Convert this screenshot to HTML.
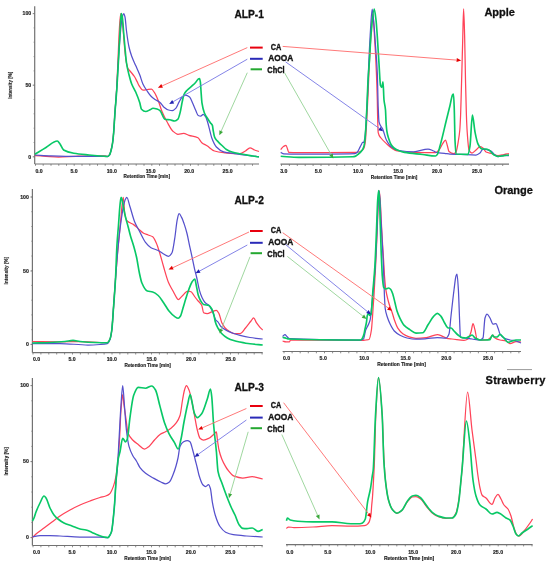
<!DOCTYPE html>
<html><head><meta charset="utf-8"><style>
html,body{margin:0;padding:0;background:#fff;}
body{width:550px;height:568px;overflow:hidden;}
svg{display:block;will-change:transform;}
text{font-family:"Liberation Sans",sans-serif;fill:#111;}
.tl{font-size:5.2px;font-weight:bold;fill:#1a1a1a;stroke:#1a1a1a;stroke-width:0.15px;}
.rt{font-size:5.2px;font-weight:bold;fill:#1a1a1a;stroke:#1a1a1a;stroke-width:0.15px;}
.it{font-size:5.2px;font-weight:bold;fill:#1a1a1a;stroke:#1a1a1a;stroke-width:0.12px;}
.lg{font-size:8.6px;font-weight:bold;stroke:#111;stroke-width:0.35px;}
.ti{font-size:11px;font-weight:bold;stroke:#111;stroke-width:0.3px;}
</style></head><body>
<svg width="550" height="568" viewBox="0 0 550 568">
<rect width="550" height="568" fill="#fff"/>
<line x1="34.7" y1="6.3" x2="34.7" y2="164.0" stroke="#727272" stroke-width="1.2"/>
<line x1="32.7" y1="13.6" x2="34.7" y2="13.6" stroke="#727272" stroke-width="0.8"/>
<text x="31.2" y="15.4" class="tl" text-anchor="end">100</text>
<line x1="32.7" y1="85.2" x2="34.7" y2="85.2" stroke="#727272" stroke-width="0.8"/>
<text x="31.2" y="87.0" class="tl" text-anchor="end">50</text>
<line x1="32.7" y1="156.8" x2="34.7" y2="156.8" stroke="#727272" stroke-width="0.8"/>
<text x="31.2" y="158.6" class="tl" text-anchor="end">0</text>
<line x1="33.5" y1="13.6" x2="34.7" y2="13.6" stroke="#727272" stroke-width="0.6"/>
<line x1="33.5" y1="27.9" x2="34.7" y2="27.9" stroke="#727272" stroke-width="0.6"/>
<line x1="33.5" y1="42.2" x2="34.7" y2="42.2" stroke="#727272" stroke-width="0.6"/>
<line x1="33.5" y1="56.6" x2="34.7" y2="56.6" stroke="#727272" stroke-width="0.6"/>
<line x1="33.5" y1="70.9" x2="34.7" y2="70.9" stroke="#727272" stroke-width="0.6"/>
<line x1="33.5" y1="85.2" x2="34.7" y2="85.2" stroke="#727272" stroke-width="0.6"/>
<line x1="33.5" y1="99.5" x2="34.7" y2="99.5" stroke="#727272" stroke-width="0.6"/>
<line x1="33.5" y1="113.8" x2="34.7" y2="113.8" stroke="#727272" stroke-width="0.6"/>
<line x1="33.5" y1="128.2" x2="34.7" y2="128.2" stroke="#727272" stroke-width="0.6"/>
<line x1="33.5" y1="142.5" x2="34.7" y2="142.5" stroke="#727272" stroke-width="0.6"/>
<line x1="33.5" y1="156.8" x2="34.7" y2="156.8" stroke="#727272" stroke-width="0.6"/>
<text transform="translate(12.0 98.8) rotate(-90)" class="it" textLength="27.1" lengthAdjust="spacingAndGlyphs">Intensity [%]</text>
<line x1="34.7" y1="164.0" x2="259.0" y2="164.0" stroke="#727272" stroke-width="1.2"/>
<line x1="35.5" y1="164.0" x2="35.5" y2="165.8" stroke="#727272" stroke-width="0.8"/>
<line x1="43.2" y1="164.0" x2="43.2" y2="165.8" stroke="#727272" stroke-width="0.8"/>
<line x1="51.0" y1="164.0" x2="51.0" y2="165.8" stroke="#727272" stroke-width="0.8"/>
<line x1="58.8" y1="164.0" x2="58.8" y2="165.8" stroke="#727272" stroke-width="0.8"/>
<line x1="66.5" y1="164.0" x2="66.5" y2="165.8" stroke="#727272" stroke-width="0.8"/>
<line x1="74.2" y1="164.0" x2="74.2" y2="165.8" stroke="#727272" stroke-width="0.8"/>
<line x1="82.0" y1="164.0" x2="82.0" y2="165.8" stroke="#727272" stroke-width="0.8"/>
<line x1="89.8" y1="164.0" x2="89.8" y2="165.8" stroke="#727272" stroke-width="0.8"/>
<line x1="97.5" y1="164.0" x2="97.5" y2="165.8" stroke="#727272" stroke-width="0.8"/>
<line x1="105.2" y1="164.0" x2="105.2" y2="165.8" stroke="#727272" stroke-width="0.8"/>
<line x1="113.0" y1="164.0" x2="113.0" y2="165.8" stroke="#727272" stroke-width="0.8"/>
<line x1="120.8" y1="164.0" x2="120.8" y2="165.8" stroke="#727272" stroke-width="0.8"/>
<line x1="128.5" y1="164.0" x2="128.5" y2="165.8" stroke="#727272" stroke-width="0.8"/>
<line x1="136.2" y1="164.0" x2="136.2" y2="165.8" stroke="#727272" stroke-width="0.8"/>
<line x1="144.0" y1="164.0" x2="144.0" y2="165.8" stroke="#727272" stroke-width="0.8"/>
<line x1="151.8" y1="164.0" x2="151.8" y2="165.8" stroke="#727272" stroke-width="0.8"/>
<line x1="159.5" y1="164.0" x2="159.5" y2="165.8" stroke="#727272" stroke-width="0.8"/>
<line x1="167.2" y1="164.0" x2="167.2" y2="165.8" stroke="#727272" stroke-width="0.8"/>
<line x1="175.0" y1="164.0" x2="175.0" y2="165.8" stroke="#727272" stroke-width="0.8"/>
<line x1="182.8" y1="164.0" x2="182.8" y2="165.8" stroke="#727272" stroke-width="0.8"/>
<line x1="190.5" y1="164.0" x2="190.5" y2="165.8" stroke="#727272" stroke-width="0.8"/>
<line x1="198.2" y1="164.0" x2="198.2" y2="165.8" stroke="#727272" stroke-width="0.8"/>
<line x1="206.0" y1="164.0" x2="206.0" y2="165.8" stroke="#727272" stroke-width="0.8"/>
<line x1="213.8" y1="164.0" x2="213.8" y2="165.8" stroke="#727272" stroke-width="0.8"/>
<line x1="221.5" y1="164.0" x2="221.5" y2="165.8" stroke="#727272" stroke-width="0.8"/>
<line x1="229.2" y1="164.0" x2="229.2" y2="165.8" stroke="#727272" stroke-width="0.8"/>
<line x1="237.0" y1="164.0" x2="237.0" y2="165.8" stroke="#727272" stroke-width="0.8"/>
<line x1="244.8" y1="164.0" x2="244.8" y2="165.8" stroke="#727272" stroke-width="0.8"/>
<line x1="252.5" y1="164.0" x2="252.5" y2="165.8" stroke="#727272" stroke-width="0.8"/>
<text x="39.0" y="172.5" class="tl" text-anchor="middle">0.0</text>
<text x="74.0" y="172.5" class="tl" text-anchor="middle">5.0</text>
<text x="111.8" y="172.5" class="tl" text-anchor="middle">10.0</text>
<text x="150.7" y="172.5" class="tl" text-anchor="middle">15.0</text>
<text x="189.2" y="172.5" class="tl" text-anchor="middle">20.0</text>
<text x="227.6" y="172.5" class="tl" text-anchor="middle">25.0</text>
<text x="123.6" y="178.4" class="rt" textLength="46.4" lengthAdjust="spacingAndGlyphs">Retention Time [min]</text>
<path d="M35.00 155.60 C38.67 155.83 42.33 156.08 46.00 156.30 C50.17 156.55 54.33 157.00 58.50 157.00 C64.33 157.00 70.17 156.45 76.00 156.30 C85.33 156.06 94.67 155.80 104.00 155.80 C105.17 155.80 106.33 156.30 107.50 156.30 C108.17 156.30 108.83 155.62 109.50 154.80 C110.07 154.10 110.63 151.70 111.20 149.50 C111.63 147.82 112.07 145.82 112.50 143.00 C112.83 140.83 113.17 137.66 113.50 134.00 C114.00 128.51 114.50 119.20 115.00 112.00 C115.53 104.32 116.07 98.45 116.60 89.40 C117.07 81.48 117.53 70.49 118.00 60.00 C118.33 52.51 118.67 42.40 119.00 36.00 C119.33 29.60 119.67 23.26 120.00 20.00 C120.30 17.07 120.60 13.60 120.90 13.60 C121.33 13.60 121.77 17.07 122.20 20.00 C122.63 22.93 123.07 29.02 123.50 34.00 C123.93 38.98 124.37 45.78 124.80 50.00 C125.30 54.87 125.80 59.39 126.30 62.00 C126.87 64.95 127.43 67.39 128.00 68.50 C128.50 69.48 129.00 69.88 129.50 70.50 C130.23 71.40 130.97 72.11 131.70 73.00 C132.60 74.09 133.50 75.12 134.40 76.50 C135.27 77.83 136.13 79.73 137.00 81.40 C137.90 83.13 138.80 85.45 139.70 86.70 C140.80 88.23 141.90 90.20 143.00 90.20 C144.50 90.20 146.00 89.65 147.50 89.50 C148.83 89.37 150.17 89.20 151.50 89.20 C152.50 89.20 153.50 91.21 154.50 92.70 C155.67 94.43 156.83 97.18 158.00 100.00 C159.27 103.06 160.53 107.91 161.80 111.00 C163.53 115.23 165.27 118.65 167.00 121.80 C168.90 125.26 170.80 129.30 172.70 131.00 C174.47 132.58 176.23 134.30 178.00 134.30 C179.87 134.30 181.73 133.40 183.60 133.40 C185.40 133.40 187.20 134.74 189.00 135.30 C192.00 136.24 195.00 136.30 198.00 137.80 C199.27 138.43 200.53 141.65 201.80 142.70 C203.53 144.14 205.27 144.69 207.00 145.80 C209.50 147.40 212.00 150.25 214.50 151.00 C217.53 151.91 220.57 152.35 223.60 152.70 C227.23 153.12 230.87 153.60 234.50 153.60 C236.33 153.60 238.17 153.60 240.00 153.60 C241.83 153.60 243.67 152.05 245.50 151.00 C247.00 150.14 248.50 147.80 250.00 147.80 C251.50 147.80 253.00 149.41 254.50 150.00 C256.00 150.59 257.50 151.00 259.00 151.50" fill="none" stroke="#ff4358" stroke-width="1.25" stroke-linejoin="round"/>
<path d="M35.00 155.00 C40.33 155.27 45.67 155.64 51.00 155.80 C59.33 156.05 67.67 156.30 76.00 156.30 C85.43 156.30 94.87 156.30 104.30 156.30 C105.37 156.30 106.43 156.50 107.50 156.50 C108.17 156.50 108.83 155.81 109.50 155.00 C110.07 154.31 110.63 152.12 111.20 150.00 C111.63 148.38 112.07 146.32 112.50 143.50 C112.83 141.33 113.17 138.19 113.50 134.50 C114.00 128.97 114.50 119.06 115.00 112.00 C115.57 104.00 116.13 97.89 116.70 89.40 C117.23 81.41 117.77 70.42 118.30 62.00 C118.80 54.11 119.30 46.18 119.80 40.00 C120.30 33.82 120.80 27.88 121.30 24.00 C121.73 20.64 122.17 17.30 122.60 16.00 C123.00 14.80 123.40 13.60 123.80 13.60 C124.20 13.60 124.60 15.29 125.00 17.00 C125.50 19.13 126.00 27.14 126.50 31.00 C127.33 37.43 128.17 43.25 129.00 47.00 C129.90 51.05 130.80 53.77 131.70 56.30 C133.03 60.05 134.37 62.52 135.70 65.60 C137.03 68.68 138.37 71.40 139.70 74.80 C140.77 77.52 141.83 81.63 142.90 83.90 C144.30 86.88 145.70 88.83 147.10 90.90 C148.50 92.97 149.90 95.13 151.30 96.50 C152.53 97.71 153.77 98.54 155.00 99.40 C156.67 100.56 158.33 101.12 160.00 102.50 C161.23 103.52 162.47 105.87 163.70 106.90 C165.33 108.27 166.97 109.59 168.60 110.00 C169.83 110.31 171.07 110.60 172.30 110.60 C173.53 110.60 174.77 109.36 176.00 108.10 C177.03 107.04 178.07 103.72 179.10 101.90 C180.13 100.08 181.17 97.88 182.20 97.00 C183.30 96.07 184.40 95.10 185.50 95.10 C186.87 95.10 188.23 95.94 189.60 97.00 C190.63 97.80 191.67 100.95 192.70 103.20 C193.73 105.45 194.77 108.33 195.80 110.60 C196.60 112.35 197.40 115.15 198.20 115.50 C199.03 115.86 199.87 116.10 200.70 116.10 C201.53 116.10 202.37 114.30 203.20 114.30 C204.00 114.30 204.80 115.52 205.60 116.70 C206.23 117.63 206.87 119.73 207.50 121.70 C208.00 123.25 208.50 125.41 209.00 127.30 C209.93 130.82 210.87 135.52 211.80 138.00 C213.33 142.07 214.87 145.42 216.40 147.00 C218.80 149.48 221.20 151.14 223.60 151.80 C227.23 152.80 230.87 153.06 234.50 153.60 C240.57 154.50 246.63 155.28 252.70 156.00 C254.80 156.25 256.90 156.47 259.00 156.70" fill="none" stroke="#5550cc" stroke-width="1.25" stroke-linejoin="round"/>
<path d="M35.00 154.30 C38.67 152.03 42.33 149.69 46.00 147.50 C49.77 145.25 53.53 141.00 57.30 141.00 C58.20 141.00 59.10 142.81 60.00 144.00 C61.20 145.58 62.40 149.27 63.60 150.00 C67.00 152.06 70.40 152.72 73.80 153.30 C78.87 154.17 83.93 154.51 89.00 155.00 C94.10 155.49 99.20 155.94 104.30 156.30 C105.37 156.37 106.43 156.50 107.50 156.50 C108.17 156.50 108.83 155.81 109.50 155.00 C110.07 154.31 110.63 152.12 111.20 150.00 C111.63 148.38 112.07 146.32 112.50 143.50 C112.83 141.33 113.17 138.19 113.50 134.50 C114.00 128.97 114.50 118.85 115.00 112.00 C115.60 103.78 116.20 98.14 116.80 89.40 C117.37 81.14 117.93 70.13 118.50 60.00 C118.93 52.25 119.37 43.84 119.80 36.00 C120.10 30.57 120.40 23.93 120.70 20.00 C120.90 17.38 121.10 13.60 121.30 13.60 C121.63 13.60 121.97 15.29 122.30 17.00 C122.73 19.22 123.17 27.02 123.60 32.00 C124.07 37.36 124.53 43.02 125.00 48.00 C125.50 53.34 126.00 59.69 126.50 63.00 C127.33 68.51 128.17 71.50 129.00 74.80 C129.90 78.37 130.80 81.69 131.70 84.00 C133.03 87.42 134.37 88.96 135.70 92.00 C137.03 95.04 138.37 98.41 139.70 102.60 C140.30 104.48 140.90 108.57 141.50 109.20 C142.90 110.68 144.30 111.50 145.70 111.50 C147.13 111.50 148.57 110.46 150.00 109.80 C151.00 109.34 152.00 108.20 153.00 108.20 C154.33 108.20 155.67 108.60 157.00 109.00 C158.00 109.30 159.00 109.82 160.00 110.60 C161.67 111.90 163.33 118.82 165.00 119.20 C166.63 119.57 168.27 119.53 169.90 119.80 C171.53 120.07 173.17 121.00 174.80 121.00 C175.83 121.00 176.87 120.24 177.90 119.20 C178.70 118.39 179.50 114.93 180.30 111.80 C180.93 109.32 181.57 104.81 182.20 101.90 C182.80 99.15 183.40 95.80 184.00 94.50 C185.03 92.26 186.07 91.33 187.10 90.20 C188.73 88.41 190.37 87.41 192.00 85.90 C193.27 84.73 194.53 83.62 195.80 82.20 C196.60 81.30 197.40 79.62 198.20 79.10 C198.63 78.82 199.07 78.50 199.50 78.50 C199.80 78.50 200.10 80.21 200.40 82.20 C200.60 83.53 200.80 88.12 201.00 90.80 C201.33 95.26 201.67 101.00 202.00 103.20 C202.80 108.48 203.60 111.01 204.40 113.00 C205.60 115.99 206.80 117.30 208.00 119.20 C208.83 120.52 209.67 121.74 210.50 122.90 C211.13 123.78 211.77 123.88 212.40 125.40 C212.67 126.04 212.93 129.01 213.20 130.50 C213.60 132.74 214.00 135.26 214.40 136.40 C214.93 137.91 215.47 138.76 216.00 139.50 C216.73 140.51 217.47 141.06 218.20 141.80 C219.47 143.08 220.73 144.31 222.00 145.50 C223.47 146.88 224.93 148.61 226.40 149.50 C228.27 150.63 230.13 151.43 232.00 152.00 C234.67 152.81 237.33 153.27 240.00 153.80 C244.23 154.64 248.47 155.30 252.70 156.00 C254.80 156.35 256.90 156.67 259.00 157.00" fill="none" stroke="#08c866" stroke-width="1.65" stroke-linejoin="round"/>
<line x1="280.5" y1="164.2" x2="509.0" y2="164.2" stroke="#727272" stroke-width="1.2"/>
<line x1="281.5" y1="164.2" x2="281.5" y2="166.0" stroke="#727272" stroke-width="0.8"/>
<line x1="289.4" y1="164.2" x2="289.4" y2="166.0" stroke="#727272" stroke-width="0.8"/>
<line x1="297.3" y1="164.2" x2="297.3" y2="166.0" stroke="#727272" stroke-width="0.8"/>
<line x1="305.2" y1="164.2" x2="305.2" y2="166.0" stroke="#727272" stroke-width="0.8"/>
<line x1="313.1" y1="164.2" x2="313.1" y2="166.0" stroke="#727272" stroke-width="0.8"/>
<line x1="321.0" y1="164.2" x2="321.0" y2="166.0" stroke="#727272" stroke-width="0.8"/>
<line x1="328.9" y1="164.2" x2="328.9" y2="166.0" stroke="#727272" stroke-width="0.8"/>
<line x1="336.8" y1="164.2" x2="336.8" y2="166.0" stroke="#727272" stroke-width="0.8"/>
<line x1="344.7" y1="164.2" x2="344.7" y2="166.0" stroke="#727272" stroke-width="0.8"/>
<line x1="352.6" y1="164.2" x2="352.6" y2="166.0" stroke="#727272" stroke-width="0.8"/>
<line x1="360.5" y1="164.2" x2="360.5" y2="166.0" stroke="#727272" stroke-width="0.8"/>
<line x1="368.4" y1="164.2" x2="368.4" y2="166.0" stroke="#727272" stroke-width="0.8"/>
<line x1="376.3" y1="164.2" x2="376.3" y2="166.0" stroke="#727272" stroke-width="0.8"/>
<line x1="384.2" y1="164.2" x2="384.2" y2="166.0" stroke="#727272" stroke-width="0.8"/>
<line x1="392.1" y1="164.2" x2="392.1" y2="166.0" stroke="#727272" stroke-width="0.8"/>
<line x1="400.0" y1="164.2" x2="400.0" y2="166.0" stroke="#727272" stroke-width="0.8"/>
<line x1="407.9" y1="164.2" x2="407.9" y2="166.0" stroke="#727272" stroke-width="0.8"/>
<line x1="415.8" y1="164.2" x2="415.8" y2="166.0" stroke="#727272" stroke-width="0.8"/>
<line x1="423.7" y1="164.2" x2="423.7" y2="166.0" stroke="#727272" stroke-width="0.8"/>
<line x1="431.6" y1="164.2" x2="431.6" y2="166.0" stroke="#727272" stroke-width="0.8"/>
<line x1="439.5" y1="164.2" x2="439.5" y2="166.0" stroke="#727272" stroke-width="0.8"/>
<line x1="447.4" y1="164.2" x2="447.4" y2="166.0" stroke="#727272" stroke-width="0.8"/>
<line x1="455.3" y1="164.2" x2="455.3" y2="166.0" stroke="#727272" stroke-width="0.8"/>
<line x1="463.2" y1="164.2" x2="463.2" y2="166.0" stroke="#727272" stroke-width="0.8"/>
<line x1="471.1" y1="164.2" x2="471.1" y2="166.0" stroke="#727272" stroke-width="0.8"/>
<line x1="479.0" y1="164.2" x2="479.0" y2="166.0" stroke="#727272" stroke-width="0.8"/>
<line x1="486.9" y1="164.2" x2="486.9" y2="166.0" stroke="#727272" stroke-width="0.8"/>
<line x1="494.8" y1="164.2" x2="494.8" y2="166.0" stroke="#727272" stroke-width="0.8"/>
<line x1="502.7" y1="164.2" x2="502.7" y2="166.0" stroke="#727272" stroke-width="0.8"/>
<text x="283.8" y="172.6" class="tl" text-anchor="middle">3.0</text>
<text x="318.3" y="172.6" class="tl" text-anchor="middle">5.0</text>
<text x="358.0" y="172.6" class="tl" text-anchor="middle">10.0</text>
<text x="398.2" y="172.6" class="tl" text-anchor="middle">15.0</text>
<text x="437.0" y="172.6" class="tl" text-anchor="middle">20.0</text>
<text x="477.0" y="172.6" class="tl" text-anchor="middle">25.0</text>
<text x="370.8" y="179.4" class="rt" textLength="46.6" lengthAdjust="spacingAndGlyphs">Retention Time [min]</text>
<path d="M280.70 149.60 C281.63 148.57 282.57 147.08 283.50 146.50 C284.33 145.98 285.17 145.40 286.00 145.40 C286.50 145.40 287.00 147.70 287.50 149.00 C287.90 150.04 288.30 152.37 288.70 152.40 C292.13 152.67 295.57 152.70 299.00 152.70 C317.77 152.70 336.53 152.66 355.30 152.40 C356.53 152.38 357.77 152.22 359.00 152.00 C360.00 151.82 361.00 151.24 362.00 150.50 C362.67 150.01 363.33 149.37 364.00 148.00 C364.43 147.11 364.87 145.06 365.30 142.00 C365.60 139.88 365.90 134.69 366.20 130.00 C366.47 125.83 366.73 120.16 367.00 115.00 C367.33 108.56 367.67 102.14 368.00 95.00 C368.50 84.29 369.00 69.72 369.50 60.00 C370.00 50.28 370.50 42.19 371.00 35.00 C371.57 26.85 372.13 13.60 372.70 13.60 C373.30 13.60 373.90 27.28 374.50 36.40 C375.13 46.03 375.77 57.44 376.40 72.70 C376.70 79.93 377.00 87.71 377.30 100.00 C377.40 104.10 377.50 112.63 377.60 116.40 C377.80 123.94 378.00 131.83 378.20 132.70 C379.13 136.77 380.07 136.71 381.00 138.00 C382.80 140.49 384.60 141.92 386.40 143.60 C388.20 145.28 390.00 147.05 391.80 148.20 C393.63 149.37 395.47 150.69 397.30 151.00 C402.73 151.90 408.17 152.27 413.60 152.40 C420.90 152.58 428.20 152.70 435.50 152.70 C436.67 152.70 437.83 151.24 439.00 150.00 C440.23 148.69 441.47 145.41 442.70 143.60 C443.63 142.23 444.57 140.00 445.50 140.00 C446.10 140.00 446.70 143.53 447.30 145.50 C447.87 147.36 448.43 151.01 449.00 151.50 C450.67 152.94 452.33 153.60 454.00 153.60 C454.67 153.60 455.33 152.89 456.00 152.00 C456.83 150.89 457.67 145.05 458.50 140.00 C458.93 137.37 459.37 134.89 459.80 130.00 C460.07 126.99 460.33 121.49 460.60 115.00 C460.80 110.14 461.00 101.89 461.20 95.00 C461.43 86.96 461.67 78.53 461.90 70.00 C462.17 60.25 462.43 49.58 462.70 40.00 C463.00 29.22 463.30 9.00 463.60 9.00 C463.93 9.00 464.27 23.53 464.60 35.00 C464.90 45.32 465.20 66.88 465.50 80.00 C465.80 93.12 466.10 106.80 466.40 115.00 C466.67 122.29 466.93 128.20 467.20 132.00 C467.80 140.55 468.40 148.83 469.00 150.00 C470.00 151.95 471.00 153.00 472.00 153.00 C473.33 153.00 474.67 151.06 476.00 150.00 C477.33 148.94 478.67 146.60 480.00 146.60 C481.00 146.60 482.00 147.31 483.00 148.00 C484.00 148.69 485.00 151.52 486.00 152.00 C488.00 152.96 490.00 153.01 492.00 153.60 C494.00 154.19 496.00 155.60 498.00 155.60 C500.00 155.60 502.00 154.96 504.00 154.60 C505.67 154.30 507.33 153.93 509.00 153.60" fill="none" stroke="#ff4358" stroke-width="1.25" stroke-linejoin="round"/>
<path d="M280.70 152.40 C281.73 152.87 282.77 153.74 283.80 153.80 C288.87 154.11 293.93 154.20 299.00 154.20 C317.67 154.20 336.33 154.16 355.00 153.60 C355.90 153.57 356.80 152.73 357.70 151.80 C358.30 151.18 358.90 149.38 359.50 148.20 C360.13 146.95 360.77 145.66 361.40 144.50 C361.80 143.77 362.20 142.40 362.60 142.40 C362.97 142.40 363.33 142.40 363.70 142.40 C364.07 142.40 364.43 140.14 364.80 138.00 C365.07 136.44 365.33 133.32 365.60 130.00 C365.90 126.27 366.20 120.45 366.50 115.00 C366.83 108.95 367.17 102.38 367.50 95.00 C367.90 86.14 368.30 73.93 368.70 65.00 C369.20 53.84 369.70 42.94 370.20 35.00 C370.87 24.41 371.53 9.10 372.20 9.10 C372.80 9.10 373.40 18.52 374.00 25.00 C374.50 30.40 375.00 38.33 375.50 45.50 C376.10 54.10 376.70 59.06 377.30 72.70 C377.60 79.52 377.90 99.58 378.20 107.00 C378.47 113.60 378.73 120.66 379.00 121.80 C380.23 127.06 381.47 126.10 382.70 129.00 C383.93 131.90 385.17 137.65 386.40 140.00 C388.20 143.43 390.00 146.07 391.80 147.30 C394.20 148.95 396.60 150.11 399.00 150.50 C403.87 151.28 408.73 151.80 413.60 151.80 C418.40 151.80 423.20 149.00 428.00 149.00 C429.87 149.00 431.73 150.24 433.60 151.00 C434.83 151.50 436.07 152.51 437.30 152.70 C439.70 153.07 442.10 153.03 444.50 153.30 C446.33 153.51 448.17 154.13 450.00 154.20 C453.33 154.33 456.67 154.32 460.00 154.40 C465.33 154.54 470.67 155.00 476.00 155.00 C477.33 155.00 478.67 153.99 480.00 153.00 C481.00 152.26 482.00 149.00 483.00 149.00 C484.67 149.00 486.33 149.57 488.00 150.00 C489.00 150.26 490.00 150.51 491.00 151.00 C492.33 151.65 493.67 154.09 495.00 155.00 C496.00 155.69 497.00 156.60 498.00 156.60 C500.00 156.60 502.00 155.40 504.00 155.40 C505.67 155.40 507.33 155.53 509.00 155.60" fill="none" stroke="#5550cc" stroke-width="1.25" stroke-linejoin="round"/>
<path d="M280.70 156.30 C286.80 156.63 292.90 157.30 299.00 157.30 C317.00 157.30 335.00 157.24 353.00 156.80 C353.67 156.78 354.33 156.60 355.00 156.40 C356.17 156.06 357.33 154.97 358.50 154.00 C359.77 152.95 361.03 151.94 362.30 150.00 C362.87 149.13 363.43 148.09 364.00 146.00 C364.33 144.77 364.67 142.11 365.00 139.00 C365.33 135.89 365.67 130.49 366.00 125.00 C366.33 119.51 366.67 112.27 367.00 105.00 C367.33 97.73 367.67 87.00 368.00 81.00 C368.50 72.00 369.00 67.61 369.50 60.00 C370.00 52.39 370.50 40.69 371.00 35.00 C372.07 22.87 373.13 9.10 374.20 9.10 C374.80 9.10 375.40 15.00 376.00 20.00 C376.43 23.61 376.87 30.32 377.30 36.40 C377.87 44.35 378.43 54.96 379.00 63.60 C379.50 71.23 380.00 84.26 380.50 85.50 C380.93 86.57 381.37 87.30 381.80 87.30 C382.20 87.30 382.60 81.80 383.00 81.80 C383.33 81.80 383.67 96.64 384.00 100.00 C384.50 105.04 385.00 104.48 385.50 110.00 C385.70 112.21 385.90 120.12 386.10 123.00 C386.37 126.84 386.63 129.74 386.90 131.40 C387.43 134.72 387.97 136.27 388.50 138.00 C389.33 140.70 390.17 143.14 391.00 144.50 C392.00 146.13 393.00 147.20 394.00 148.00 C395.10 148.88 396.20 149.51 397.30 150.00 C399.70 151.07 402.10 151.96 404.50 152.40 C410.57 153.52 416.63 153.79 422.70 154.50 C426.97 155.00 431.23 156.00 435.50 156.00 C436.10 156.00 436.70 155.26 437.30 154.50 C438.20 153.36 439.10 149.14 440.00 146.00 C442.13 138.56 444.27 128.63 446.40 120.00 C447.60 115.15 448.80 110.44 450.00 105.50 C450.83 102.07 451.67 96.24 452.50 95.00 C452.83 94.51 453.17 94.00 453.50 94.00 C453.77 94.00 454.03 102.67 454.30 110.00 C454.53 116.42 454.77 134.92 455.00 140.00 C455.33 147.25 455.67 153.97 456.00 154.00 C460.00 154.37 464.00 154.40 468.00 154.40 C468.67 154.40 469.33 150.16 470.00 146.00 C470.80 141.01 471.60 115.00 472.40 115.00 C473.27 115.00 474.13 127.67 475.00 132.00 C476.00 136.99 477.00 142.05 478.00 144.00 C479.33 146.60 480.67 149.00 482.00 149.00 C483.33 149.00 484.67 149.00 486.00 149.00 C487.00 149.00 488.00 149.52 489.00 150.00 C490.67 150.80 492.33 154.15 494.00 155.00 C495.33 155.68 496.67 156.40 498.00 156.40 C500.00 156.40 502.00 155.85 504.00 155.60 C505.67 155.39 507.33 155.20 509.00 155.00" fill="none" stroke="#08c866" stroke-width="1.65" stroke-linejoin="round"/>
<line x1="32.4" y1="189.0" x2="32.4" y2="352.7" stroke="#727272" stroke-width="1.2"/>
<line x1="30.4" y1="197.0" x2="32.4" y2="197.0" stroke="#727272" stroke-width="0.8"/>
<text x="28.9" y="198.8" class="tl" text-anchor="end">100</text>
<line x1="30.4" y1="271.0" x2="32.4" y2="271.0" stroke="#727272" stroke-width="0.8"/>
<text x="28.9" y="272.8" class="tl" text-anchor="end">50</text>
<line x1="30.4" y1="344.4" x2="32.4" y2="344.4" stroke="#727272" stroke-width="0.8"/>
<text x="28.9" y="346.2" class="tl" text-anchor="end">0</text>
<line x1="31.2" y1="197.0" x2="32.4" y2="197.0" stroke="#727272" stroke-width="0.6"/>
<line x1="31.2" y1="211.7" x2="32.4" y2="211.7" stroke="#727272" stroke-width="0.6"/>
<line x1="31.2" y1="226.5" x2="32.4" y2="226.5" stroke="#727272" stroke-width="0.6"/>
<line x1="31.2" y1="241.2" x2="32.4" y2="241.2" stroke="#727272" stroke-width="0.6"/>
<line x1="31.2" y1="256.0" x2="32.4" y2="256.0" stroke="#727272" stroke-width="0.6"/>
<line x1="31.2" y1="270.7" x2="32.4" y2="270.7" stroke="#727272" stroke-width="0.6"/>
<line x1="31.2" y1="285.4" x2="32.4" y2="285.4" stroke="#727272" stroke-width="0.6"/>
<line x1="31.2" y1="300.2" x2="32.4" y2="300.2" stroke="#727272" stroke-width="0.6"/>
<line x1="31.2" y1="314.9" x2="32.4" y2="314.9" stroke="#727272" stroke-width="0.6"/>
<line x1="31.2" y1="329.7" x2="32.4" y2="329.7" stroke="#727272" stroke-width="0.6"/>
<line x1="31.2" y1="344.4" x2="32.4" y2="344.4" stroke="#727272" stroke-width="0.6"/>
<text transform="translate(8.4 284.4) rotate(-90)" class="it" textLength="27.5" lengthAdjust="spacingAndGlyphs">Intensity [%]</text>
<line x1="32.4" y1="352.7" x2="262.7" y2="352.7" stroke="#727272" stroke-width="1.2"/>
<line x1="33.0" y1="352.7" x2="33.0" y2="354.5" stroke="#727272" stroke-width="0.8"/>
<line x1="40.9" y1="352.7" x2="40.9" y2="354.5" stroke="#727272" stroke-width="0.8"/>
<line x1="48.8" y1="352.7" x2="48.8" y2="354.5" stroke="#727272" stroke-width="0.8"/>
<line x1="56.7" y1="352.7" x2="56.7" y2="354.5" stroke="#727272" stroke-width="0.8"/>
<line x1="64.6" y1="352.7" x2="64.6" y2="354.5" stroke="#727272" stroke-width="0.8"/>
<line x1="72.5" y1="352.7" x2="72.5" y2="354.5" stroke="#727272" stroke-width="0.8"/>
<line x1="80.4" y1="352.7" x2="80.4" y2="354.5" stroke="#727272" stroke-width="0.8"/>
<line x1="88.3" y1="352.7" x2="88.3" y2="354.5" stroke="#727272" stroke-width="0.8"/>
<line x1="96.2" y1="352.7" x2="96.2" y2="354.5" stroke="#727272" stroke-width="0.8"/>
<line x1="104.1" y1="352.7" x2="104.1" y2="354.5" stroke="#727272" stroke-width="0.8"/>
<line x1="112.0" y1="352.7" x2="112.0" y2="354.5" stroke="#727272" stroke-width="0.8"/>
<line x1="119.9" y1="352.7" x2="119.9" y2="354.5" stroke="#727272" stroke-width="0.8"/>
<line x1="127.8" y1="352.7" x2="127.8" y2="354.5" stroke="#727272" stroke-width="0.8"/>
<line x1="135.7" y1="352.7" x2="135.7" y2="354.5" stroke="#727272" stroke-width="0.8"/>
<line x1="143.6" y1="352.7" x2="143.6" y2="354.5" stroke="#727272" stroke-width="0.8"/>
<line x1="151.5" y1="352.7" x2="151.5" y2="354.5" stroke="#727272" stroke-width="0.8"/>
<line x1="159.4" y1="352.7" x2="159.4" y2="354.5" stroke="#727272" stroke-width="0.8"/>
<line x1="167.3" y1="352.7" x2="167.3" y2="354.5" stroke="#727272" stroke-width="0.8"/>
<line x1="175.2" y1="352.7" x2="175.2" y2="354.5" stroke="#727272" stroke-width="0.8"/>
<line x1="183.1" y1="352.7" x2="183.1" y2="354.5" stroke="#727272" stroke-width="0.8"/>
<line x1="191.0" y1="352.7" x2="191.0" y2="354.5" stroke="#727272" stroke-width="0.8"/>
<line x1="198.9" y1="352.7" x2="198.9" y2="354.5" stroke="#727272" stroke-width="0.8"/>
<line x1="206.8" y1="352.7" x2="206.8" y2="354.5" stroke="#727272" stroke-width="0.8"/>
<line x1="214.7" y1="352.7" x2="214.7" y2="354.5" stroke="#727272" stroke-width="0.8"/>
<line x1="222.6" y1="352.7" x2="222.6" y2="354.5" stroke="#727272" stroke-width="0.8"/>
<line x1="230.5" y1="352.7" x2="230.5" y2="354.5" stroke="#727272" stroke-width="0.8"/>
<line x1="238.4" y1="352.7" x2="238.4" y2="354.5" stroke="#727272" stroke-width="0.8"/>
<line x1="246.3" y1="352.7" x2="246.3" y2="354.5" stroke="#727272" stroke-width="0.8"/>
<line x1="254.2" y1="352.7" x2="254.2" y2="354.5" stroke="#727272" stroke-width="0.8"/>
<line x1="262.1" y1="352.7" x2="262.1" y2="354.5" stroke="#727272" stroke-width="0.8"/>
<text x="36.6" y="360.6" class="tl" text-anchor="middle">0.0</text>
<text x="72.0" y="360.6" class="tl" text-anchor="middle">5.0</text>
<text x="111.8" y="360.6" class="tl" text-anchor="middle">10.0</text>
<text x="151.5" y="360.6" class="tl" text-anchor="middle">15.0</text>
<text x="191.0" y="360.6" class="tl" text-anchor="middle">20.0</text>
<text x="230.5" y="360.6" class="tl" text-anchor="middle">25.0</text>
<text x="124.5" y="366.9" class="rt" textLength="46.4" lengthAdjust="spacingAndGlyphs">Retention Time [min]</text>
<path d="M32.40 341.60 C41.60 341.67 50.80 341.80 60.00 341.80 C66.67 341.80 73.33 341.60 80.00 341.60 C86.67 341.60 93.33 342.28 100.00 342.50 C102.43 342.58 104.87 342.70 107.30 342.70 C108.20 342.70 109.10 341.01 110.00 339.00 C110.60 337.66 111.20 334.34 111.80 330.00 C112.40 325.66 113.00 314.64 113.60 306.40 C114.23 297.70 114.87 287.58 115.50 279.00 C116.10 270.87 116.70 262.93 117.30 256.00 C117.93 248.68 118.57 242.68 119.20 236.00 C119.80 229.68 120.40 223.40 121.00 217.00 C121.43 212.38 121.87 206.15 122.30 203.00 C122.63 200.58 122.97 197.40 123.30 197.40 C123.80 197.40 124.30 211.29 124.80 214.00 C125.37 217.07 125.93 219.14 126.50 220.00 C127.33 221.26 128.17 221.74 129.00 222.30 C130.53 223.32 132.07 223.63 133.60 224.60 C135.13 225.57 136.67 227.28 138.20 228.60 C140.00 230.15 141.80 232.24 143.60 233.20 C145.13 234.01 146.67 234.39 148.20 235.00 C149.70 235.59 151.20 235.81 152.70 236.80 C153.93 237.62 155.17 240.49 156.40 243.20 C157.60 245.84 158.80 250.09 160.00 254.00 C161.20 257.91 162.40 262.74 163.60 266.80 C165.23 272.32 166.87 278.62 168.50 282.50 C169.90 285.82 171.30 287.88 172.70 290.50 C173.93 292.81 175.17 295.48 176.40 297.30 C177.00 298.19 177.60 299.60 178.20 299.60 C179.40 299.60 180.60 297.53 181.80 296.40 C183.33 294.96 184.87 292.69 186.40 291.80 C187.00 291.45 187.60 291.00 188.20 291.00 C189.13 291.00 190.07 291.36 191.00 291.80 C191.57 292.07 192.13 292.91 192.70 293.60 C193.47 294.54 194.23 295.96 195.00 297.00 C196.07 298.45 197.13 299.67 198.20 301.00 C199.40 302.50 200.60 303.07 201.80 305.50 C202.40 306.71 203.00 312.39 203.60 312.70 C204.83 313.33 206.07 313.60 207.30 313.60 C208.80 313.60 210.30 312.32 211.80 311.80 C213.33 311.27 214.87 310.40 216.40 310.40 C217.27 310.40 218.13 312.06 219.00 313.60 C219.93 315.26 220.87 320.86 221.80 322.70 C223.63 326.32 225.47 328.64 227.30 330.00 C229.70 331.78 232.10 333.60 234.50 333.60 C236.33 333.60 238.17 333.60 240.00 333.60 C241.83 333.60 243.67 330.07 245.50 328.00 C247.33 325.93 249.17 323.29 251.00 321.00 C251.87 319.92 252.73 317.80 253.60 317.80 C254.53 317.80 255.47 321.31 256.40 322.70 C257.60 324.48 258.80 325.96 260.00 327.30 C260.90 328.30 261.80 329.10 262.70 330.00" fill="none" stroke="#ff4358" stroke-width="1.25" stroke-linejoin="round"/>
<path d="M32.40 343.60 C41.60 343.57 50.80 343.50 60.00 343.50 C69.33 343.50 78.67 345.00 88.00 345.00 C92.00 345.00 96.00 344.76 100.00 344.50 C102.43 344.34 104.87 344.24 107.30 343.60 C108.20 343.36 109.10 341.70 110.00 339.50 C110.60 338.03 111.20 334.52 111.80 330.00 C112.40 325.48 113.00 314.64 113.60 306.40 C114.23 297.70 114.87 287.58 115.50 279.00 C116.10 270.87 116.70 262.93 117.30 256.00 C117.93 248.68 118.57 241.71 119.20 236.00 C119.97 229.08 120.73 223.19 121.50 218.00 C122.17 213.49 122.83 208.99 123.50 206.00 C124.10 203.31 124.70 200.69 125.30 199.50 C125.80 198.50 126.30 197.40 126.80 197.40 C127.87 197.40 128.93 203.52 130.00 206.80 C131.50 211.41 133.00 217.68 134.50 221.40 C136.33 225.95 138.17 228.82 140.00 232.30 C141.83 235.78 143.67 239.96 145.50 242.30 C147.33 244.64 149.17 246.66 151.00 247.70 C153.40 249.06 155.80 249.32 158.20 250.50 C160.00 251.39 161.80 253.02 163.60 254.00 C165.23 254.89 166.87 256.30 168.50 256.30 C169.67 256.30 170.83 254.82 172.00 252.80 C172.90 251.24 173.80 244.22 174.70 238.70 C175.57 233.38 176.43 223.16 177.30 219.40 C177.90 216.80 178.50 213.70 179.10 213.70 C179.97 213.70 180.83 215.96 181.70 217.60 C182.60 219.31 183.50 221.94 184.40 224.60 C185.27 227.16 186.13 230.06 187.00 233.50 C187.87 236.94 188.73 241.78 189.60 245.80 C190.50 249.98 191.40 253.92 192.30 258.10 C193.17 262.12 194.03 266.69 194.90 270.40 C195.50 272.97 196.10 274.93 196.70 277.50 C197.57 281.21 198.43 286.71 199.30 289.80 C200.20 293.01 201.10 295.60 202.00 297.50 C203.00 299.61 204.00 301.45 205.00 302.50 C206.33 303.90 207.67 304.09 209.00 305.50 C210.23 306.80 211.47 309.27 212.70 312.00 C213.30 313.33 213.90 315.47 214.50 317.00 C214.93 318.11 215.37 319.57 215.80 320.10 C216.43 320.88 217.07 320.96 217.70 321.60 C218.77 322.68 219.83 325.44 220.90 326.50 C223.03 328.61 225.17 329.81 227.30 330.90 C229.43 331.99 231.57 332.76 233.70 333.50 C235.80 334.23 237.90 334.87 240.00 335.40 C243.33 336.24 246.67 336.99 250.00 337.50 C254.23 338.15 258.47 338.50 262.70 339.00" fill="none" stroke="#5550cc" stroke-width="1.25" stroke-linejoin="round"/>
<path d="M32.40 343.00 C38.27 342.83 44.13 342.74 50.00 342.50 C55.00 342.30 60.00 341.97 65.00 341.50 C67.67 341.25 70.33 340.40 73.00 340.40 C75.33 340.40 77.67 341.27 80.00 341.50 C85.00 341.99 90.00 342.37 95.00 342.50 C99.10 342.61 103.20 342.70 107.30 342.70 C108.20 342.70 109.10 341.01 110.00 339.00 C110.60 337.66 111.20 334.34 111.80 330.00 C112.40 325.66 113.00 314.64 113.60 306.40 C114.23 297.70 114.87 290.47 115.50 279.00 C115.97 270.55 116.43 253.92 116.90 246.00 C117.43 236.95 117.97 232.06 118.50 225.00 C119.00 218.39 119.50 209.48 120.00 205.00 C120.37 201.72 120.73 197.40 121.10 197.40 C121.47 197.40 121.83 198.75 122.20 200.00 C122.53 201.14 122.87 204.20 123.20 206.00 C123.97 210.14 124.73 213.79 125.50 217.00 C126.40 220.77 127.30 223.57 128.20 227.00 C128.97 229.92 129.73 233.29 130.50 236.00 C131.60 239.88 132.70 242.64 133.80 246.50 C134.70 249.66 135.60 252.90 136.50 257.00 C137.47 261.40 138.43 268.51 139.40 273.00 C140.20 276.71 141.00 280.83 141.80 282.70 C143.63 286.98 145.47 290.40 147.30 291.00 C149.10 291.59 150.90 291.48 152.70 292.00 C154.53 292.53 156.37 293.92 158.20 295.50 C160.00 297.05 161.80 300.13 163.60 302.70 C165.40 305.27 167.20 308.84 169.00 311.00 C170.83 313.20 172.67 315.23 174.50 316.40 C175.73 317.19 176.97 318.20 178.20 318.20 C178.97 318.20 179.73 317.12 180.50 316.00 C181.33 314.78 182.17 310.72 183.00 308.00 C184.00 304.74 185.00 301.16 186.00 298.00 C187.00 294.84 188.00 291.62 189.00 289.00 C190.00 286.38 191.00 283.46 192.00 282.00 C192.93 280.64 193.87 279.00 194.80 279.00 C195.33 279.00 195.87 283.51 196.40 286.00 C197.00 288.80 197.60 293.03 198.20 295.00 C198.97 297.52 199.73 299.20 200.50 300.50 C201.53 302.26 202.57 304.14 203.60 304.50 C205.40 305.13 207.20 304.87 209.00 305.50 C209.93 305.83 210.87 307.35 211.80 309.00 C212.50 310.24 213.20 312.42 213.90 315.00 C214.33 316.60 214.77 319.90 215.20 321.40 C216.03 324.28 216.87 326.11 217.70 327.70 C219.00 330.18 220.30 332.15 221.60 333.50 C223.50 335.47 225.40 336.88 227.30 337.90 C229.43 339.04 231.57 339.86 233.70 340.50 C235.80 341.13 237.90 341.56 240.00 342.00 C243.33 342.69 246.67 343.38 250.00 343.80 C254.23 344.33 258.47 344.60 262.70 345.00" fill="none" stroke="#08c866" stroke-width="1.65" stroke-linejoin="round"/>
<line x1="282.6" y1="351.5" x2="521.0" y2="351.5" stroke="#727272" stroke-width="1.2"/>
<line x1="284.0" y1="351.5" x2="284.0" y2="353.3" stroke="#727272" stroke-width="0.8"/>
<line x1="292.1" y1="351.5" x2="292.1" y2="353.3" stroke="#727272" stroke-width="0.8"/>
<line x1="300.2" y1="351.5" x2="300.2" y2="353.3" stroke="#727272" stroke-width="0.8"/>
<line x1="308.3" y1="351.5" x2="308.3" y2="353.3" stroke="#727272" stroke-width="0.8"/>
<line x1="316.4" y1="351.5" x2="316.4" y2="353.3" stroke="#727272" stroke-width="0.8"/>
<line x1="324.5" y1="351.5" x2="324.5" y2="353.3" stroke="#727272" stroke-width="0.8"/>
<line x1="332.6" y1="351.5" x2="332.6" y2="353.3" stroke="#727272" stroke-width="0.8"/>
<line x1="340.7" y1="351.5" x2="340.7" y2="353.3" stroke="#727272" stroke-width="0.8"/>
<line x1="348.8" y1="351.5" x2="348.8" y2="353.3" stroke="#727272" stroke-width="0.8"/>
<line x1="356.9" y1="351.5" x2="356.9" y2="353.3" stroke="#727272" stroke-width="0.8"/>
<line x1="365.0" y1="351.5" x2="365.0" y2="353.3" stroke="#727272" stroke-width="0.8"/>
<line x1="373.1" y1="351.5" x2="373.1" y2="353.3" stroke="#727272" stroke-width="0.8"/>
<line x1="381.2" y1="351.5" x2="381.2" y2="353.3" stroke="#727272" stroke-width="0.8"/>
<line x1="389.3" y1="351.5" x2="389.3" y2="353.3" stroke="#727272" stroke-width="0.8"/>
<line x1="397.4" y1="351.5" x2="397.4" y2="353.3" stroke="#727272" stroke-width="0.8"/>
<line x1="405.5" y1="351.5" x2="405.5" y2="353.3" stroke="#727272" stroke-width="0.8"/>
<line x1="413.6" y1="351.5" x2="413.6" y2="353.3" stroke="#727272" stroke-width="0.8"/>
<line x1="421.7" y1="351.5" x2="421.7" y2="353.3" stroke="#727272" stroke-width="0.8"/>
<line x1="429.8" y1="351.5" x2="429.8" y2="353.3" stroke="#727272" stroke-width="0.8"/>
<line x1="437.9" y1="351.5" x2="437.9" y2="353.3" stroke="#727272" stroke-width="0.8"/>
<line x1="446.0" y1="351.5" x2="446.0" y2="353.3" stroke="#727272" stroke-width="0.8"/>
<line x1="454.1" y1="351.5" x2="454.1" y2="353.3" stroke="#727272" stroke-width="0.8"/>
<line x1="462.2" y1="351.5" x2="462.2" y2="353.3" stroke="#727272" stroke-width="0.8"/>
<line x1="470.3" y1="351.5" x2="470.3" y2="353.3" stroke="#727272" stroke-width="0.8"/>
<line x1="478.4" y1="351.5" x2="478.4" y2="353.3" stroke="#727272" stroke-width="0.8"/>
<line x1="486.5" y1="351.5" x2="486.5" y2="353.3" stroke="#727272" stroke-width="0.8"/>
<line x1="494.6" y1="351.5" x2="494.6" y2="353.3" stroke="#727272" stroke-width="0.8"/>
<line x1="502.7" y1="351.5" x2="502.7" y2="353.3" stroke="#727272" stroke-width="0.8"/>
<line x1="510.8" y1="351.5" x2="510.8" y2="353.3" stroke="#727272" stroke-width="0.8"/>
<line x1="518.9" y1="351.5" x2="518.9" y2="353.3" stroke="#727272" stroke-width="0.8"/>
<text x="286.5" y="360.0" class="tl" text-anchor="middle">0.0</text>
<text x="323.2" y="360.0" class="tl" text-anchor="middle">5.0</text>
<text x="364.2" y="360.0" class="tl" text-anchor="middle">10.0</text>
<text x="405.5" y="360.0" class="tl" text-anchor="middle">15.0</text>
<text x="446.4" y="360.0" class="tl" text-anchor="middle">20.0</text>
<text x="488.0" y="360.0" class="tl" text-anchor="middle">25.0</text>
<text x="377.2" y="366.4" class="rt" textLength="48.7" lengthAdjust="spacingAndGlyphs">Retention Time [min]</text>
<path d="M282.60 341.00 C283.73 341.27 284.87 341.80 286.00 341.80 C287.17 341.80 288.33 341.80 289.50 341.80 C289.83 341.80 290.17 340.00 290.50 340.00 C291.33 340.00 292.17 340.00 293.00 340.00 C316.10 340.00 339.20 340.50 362.30 340.50 C363.53 340.50 364.77 340.18 366.00 340.00 C367.00 339.85 368.00 339.83 369.00 339.50 C369.80 339.24 370.60 335.06 371.40 330.00 C371.80 327.47 372.20 320.96 372.60 315.50 C372.87 311.86 373.13 307.05 373.40 303.20 C373.60 300.31 373.80 298.05 374.00 295.00 C374.53 286.86 375.07 276.57 375.60 266.00 C376.00 258.07 376.40 249.31 376.80 240.00 C377.13 232.25 377.47 222.88 377.80 215.00 C378.07 208.70 378.33 200.71 378.60 197.00 C378.80 194.22 379.00 190.80 379.20 190.80 C379.53 190.80 379.87 195.80 380.20 200.00 C380.53 204.20 380.87 213.69 381.20 220.00 C381.67 228.83 382.13 237.29 382.60 245.00 C382.97 251.06 383.33 255.96 383.70 262.00 C383.97 266.39 384.23 272.49 384.50 276.00 C384.97 282.14 385.43 287.14 385.90 290.20 C386.60 294.79 387.30 297.28 388.00 300.00 C388.70 302.72 389.40 304.91 390.10 307.00 C390.80 309.09 391.50 310.61 392.20 312.70 C392.90 314.79 393.60 317.71 394.30 319.70 C395.47 323.02 396.63 326.37 397.80 328.20 C399.47 330.81 401.13 332.64 402.80 333.80 C404.67 335.10 406.53 336.01 408.40 336.60 C410.93 337.40 413.47 338.30 416.00 338.30 C419.47 338.30 422.93 337.98 426.40 337.60 C430.03 337.21 433.67 334.50 437.30 334.50 C439.10 334.50 440.90 335.71 442.70 336.40 C444.53 337.10 446.37 338.47 448.20 338.70 C449.47 338.86 450.73 338.88 452.00 339.00 C456.00 339.36 460.00 340.40 464.00 340.40 C465.33 340.40 466.67 339.84 468.00 339.00 C469.00 338.37 470.00 335.06 471.00 332.00 C471.67 329.96 472.33 323.60 473.00 323.60 C473.67 323.60 474.33 327.51 475.00 330.00 C475.67 332.49 476.33 338.71 477.00 339.00 C478.67 339.73 480.33 340.00 482.00 340.00 C484.00 340.00 486.00 339.87 488.00 339.60 C489.00 339.46 490.00 337.93 491.00 337.00 C491.67 336.38 492.33 335.00 493.00 335.00 C493.67 335.00 494.33 337.54 495.00 338.00 C496.67 339.15 498.33 339.60 500.00 340.00 C502.00 340.48 504.00 340.45 506.00 341.00 C507.33 341.37 508.67 343.60 510.00 343.60 C512.00 343.60 514.00 341.60 516.00 341.60 C517.67 341.60 519.33 341.87 521.00 342.00" fill="none" stroke="#ff4358" stroke-width="1.25" stroke-linejoin="round"/>
<path d="M282.60 336.40 C283.40 335.77 284.20 334.50 285.00 334.50 C285.60 334.50 286.20 335.83 286.80 336.40 C287.70 337.25 288.60 338.65 289.50 338.70 C313.17 339.91 336.83 340.00 360.50 340.00 C361.50 340.00 362.50 339.64 363.50 339.00 C364.23 338.53 364.97 331.95 365.70 330.00 C366.50 327.87 367.30 327.13 368.10 325.30 C368.80 323.70 369.50 322.56 370.20 319.60 C370.40 318.76 370.60 317.15 370.80 315.50 C371.07 313.30 371.33 309.75 371.60 307.00 C372.00 302.87 372.40 299.26 372.80 295.00 C373.63 286.13 374.47 278.68 375.30 266.00 C375.80 258.39 376.30 246.35 376.80 235.00 C377.20 225.92 377.60 212.18 378.00 205.00 C378.33 199.01 378.67 190.80 379.00 190.80 C379.33 190.80 379.67 195.80 380.00 200.00 C380.33 204.20 380.67 213.69 381.00 220.00 C381.47 228.83 381.93 236.17 382.40 245.00 C382.73 251.31 383.07 256.82 383.40 265.00 C383.57 269.09 383.73 275.00 383.90 280.00 C384.07 285.00 384.23 291.32 384.40 295.00 C384.67 300.89 384.93 306.58 385.20 308.50 C385.90 313.53 386.60 314.81 387.30 317.00 C388.23 319.92 389.17 322.11 390.10 324.00 C391.50 326.84 392.90 329.54 394.30 331.00 C396.20 332.98 398.10 334.20 400.00 335.20 C402.33 336.42 404.67 337.52 407.00 338.00 C410.00 338.61 413.00 339.20 416.00 339.20 C419.47 339.20 422.93 338.93 426.40 338.70 C430.03 338.46 433.67 337.60 437.30 337.60 C440.20 337.60 443.10 338.00 446.00 338.00 C447.00 338.00 448.00 336.44 449.00 334.00 C449.67 332.37 450.33 321.89 451.00 316.00 C452.00 307.16 453.00 297.69 454.00 290.00 C454.67 284.87 455.33 277.95 456.00 276.00 C456.33 275.02 456.67 274.00 457.00 274.00 C457.47 274.00 457.93 282.61 458.40 290.00 C458.80 296.34 459.20 310.86 459.60 320.00 C459.87 326.09 460.13 336.82 460.40 337.00 C461.60 337.83 462.80 337.78 464.00 338.00 C466.67 338.48 469.33 338.67 472.00 339.00 C474.67 339.33 477.33 340.00 480.00 340.00 C481.00 340.00 482.00 339.33 483.00 338.00 C483.67 337.12 484.33 320.22 485.00 318.00 C485.67 315.78 486.33 314.00 487.00 314.00 C488.00 314.00 489.00 316.40 490.00 318.00 C491.00 319.60 492.00 324.00 493.00 324.00 C494.00 324.00 495.00 323.60 496.00 323.60 C496.67 323.60 497.33 326.31 498.00 328.00 C498.67 329.69 499.33 332.94 500.00 334.00 C501.33 336.12 502.67 337.31 504.00 338.00 C506.00 339.03 508.00 339.56 510.00 340.00 C512.00 340.44 514.00 340.52 516.00 341.00 C517.67 341.40 519.33 342.33 521.00 343.00" fill="none" stroke="#5550cc" stroke-width="1.25" stroke-linejoin="round"/>
<path d="M282.60 337.30 C283.73 337.60 284.87 337.88 286.00 338.20 C286.87 338.45 287.73 338.97 288.60 339.00 C312.57 339.89 336.53 340.00 360.50 340.00 C361.17 340.00 361.83 338.99 362.50 338.00 C363.00 337.26 363.50 335.79 364.00 334.00 C364.27 333.04 364.53 331.30 364.80 330.00 C365.37 327.24 365.93 325.49 366.50 322.00 C366.77 320.36 367.03 316.30 367.30 315.50 C367.70 314.30 368.10 313.40 368.50 313.40 C368.93 313.40 369.37 315.50 369.80 315.50 C370.20 315.50 370.60 315.06 371.00 314.30 C371.27 313.79 371.53 310.27 371.80 307.30 C372.07 304.33 372.33 298.75 372.60 295.00 C373.37 284.21 374.13 278.60 374.90 266.00 C375.43 257.23 375.97 242.66 376.50 230.00 C376.90 220.50 377.30 205.39 377.70 200.00 C378.03 195.51 378.37 190.60 378.70 190.60 C378.97 190.60 379.23 195.45 379.50 200.00 C379.77 204.55 380.03 216.83 380.30 225.00 C380.63 235.21 380.97 246.68 381.30 255.00 C381.47 259.16 381.63 262.51 381.80 266.00 C381.97 269.49 382.13 273.93 382.30 276.00 C382.77 281.79 383.23 286.81 383.70 287.40 C384.43 288.32 385.17 288.80 385.90 288.80 C386.83 288.80 387.77 288.00 388.70 288.00 C389.40 288.00 390.10 288.73 390.80 289.50 C391.50 290.27 392.20 292.34 392.90 294.40 C393.60 296.46 394.30 299.98 395.00 302.80 C395.70 305.62 396.40 309.15 397.10 311.30 C398.07 314.26 399.03 316.36 400.00 318.30 C401.40 321.11 402.80 323.92 404.20 325.40 C406.07 327.38 407.93 328.39 409.80 329.60 C411.87 330.93 413.93 333.10 416.00 333.10 C418.23 333.10 420.47 332.96 422.70 332.70 C424.53 332.48 426.37 327.24 428.20 324.50 C430.00 321.81 431.80 318.30 433.60 316.40 C434.83 315.10 436.07 313.30 437.30 313.30 C438.53 313.30 439.77 314.98 441.00 316.40 C442.17 317.74 443.33 320.84 444.50 322.70 C445.73 324.67 446.97 328.00 448.20 328.00 C449.13 328.00 450.07 328.00 451.00 328.00 C452.00 328.00 453.00 330.00 454.00 331.00 C455.33 332.33 456.67 333.95 458.00 335.00 C459.33 336.05 460.67 337.37 462.00 337.60 C463.33 337.83 464.67 338.00 466.00 338.00 C467.33 338.00 468.67 336.67 470.00 336.00 C470.67 335.67 471.33 335.00 472.00 335.00 C473.00 335.00 474.00 337.41 475.00 338.00 C476.67 338.99 478.33 340.00 480.00 340.00 C482.00 340.00 484.00 340.00 486.00 340.00 C487.33 340.00 488.67 339.87 490.00 339.60 C490.80 339.44 491.60 335.00 492.40 335.00 C492.93 335.00 493.47 337.00 494.00 337.00 C495.00 337.00 496.00 337.00 497.00 337.00 C498.00 337.00 499.00 334.40 500.00 334.40 C501.33 334.40 502.67 336.68 504.00 338.00 C505.33 339.32 506.67 342.40 508.00 342.40 C509.33 342.40 510.67 341.39 512.00 341.00 C513.33 340.61 514.67 340.00 516.00 340.00 C517.67 340.00 519.33 340.00 521.00 340.00" fill="none" stroke="#08c866" stroke-width="1.65" stroke-linejoin="round"/>
<line x1="32.4" y1="378.0" x2="32.4" y2="545.5" stroke="#727272" stroke-width="1.2"/>
<line x1="30.4" y1="385.6" x2="32.4" y2="385.6" stroke="#727272" stroke-width="0.8"/>
<text x="28.9" y="387.4" class="tl" text-anchor="end">100</text>
<line x1="30.4" y1="461.6" x2="32.4" y2="461.6" stroke="#727272" stroke-width="0.8"/>
<text x="28.9" y="463.4" class="tl" text-anchor="end">50</text>
<line x1="30.4" y1="537.6" x2="32.4" y2="537.6" stroke="#727272" stroke-width="0.8"/>
<text x="28.9" y="539.4" class="tl" text-anchor="end">0</text>
<line x1="31.2" y1="385.6" x2="32.4" y2="385.6" stroke="#727272" stroke-width="0.6"/>
<line x1="31.2" y1="400.8" x2="32.4" y2="400.8" stroke="#727272" stroke-width="0.6"/>
<line x1="31.2" y1="416.0" x2="32.4" y2="416.0" stroke="#727272" stroke-width="0.6"/>
<line x1="31.2" y1="431.2" x2="32.4" y2="431.2" stroke="#727272" stroke-width="0.6"/>
<line x1="31.2" y1="446.4" x2="32.4" y2="446.4" stroke="#727272" stroke-width="0.6"/>
<line x1="31.2" y1="461.6" x2="32.4" y2="461.6" stroke="#727272" stroke-width="0.6"/>
<line x1="31.2" y1="476.8" x2="32.4" y2="476.8" stroke="#727272" stroke-width="0.6"/>
<line x1="31.2" y1="492.0" x2="32.4" y2="492.0" stroke="#727272" stroke-width="0.6"/>
<line x1="31.2" y1="507.2" x2="32.4" y2="507.2" stroke="#727272" stroke-width="0.6"/>
<line x1="31.2" y1="522.4" x2="32.4" y2="522.4" stroke="#727272" stroke-width="0.6"/>
<line x1="31.2" y1="537.6" x2="32.4" y2="537.6" stroke="#727272" stroke-width="0.6"/>
<text transform="translate(7.9 475.6) rotate(-90)" class="it" textLength="28.5" lengthAdjust="spacingAndGlyphs">Intensity [%]</text>
<line x1="32.4" y1="545.5" x2="262.7" y2="545.5" stroke="#727272" stroke-width="1.2"/>
<line x1="33.0" y1="545.5" x2="33.0" y2="547.3" stroke="#727272" stroke-width="0.8"/>
<line x1="40.9" y1="545.5" x2="40.9" y2="547.3" stroke="#727272" stroke-width="0.8"/>
<line x1="48.8" y1="545.5" x2="48.8" y2="547.3" stroke="#727272" stroke-width="0.8"/>
<line x1="56.7" y1="545.5" x2="56.7" y2="547.3" stroke="#727272" stroke-width="0.8"/>
<line x1="64.6" y1="545.5" x2="64.6" y2="547.3" stroke="#727272" stroke-width="0.8"/>
<line x1="72.5" y1="545.5" x2="72.5" y2="547.3" stroke="#727272" stroke-width="0.8"/>
<line x1="80.4" y1="545.5" x2="80.4" y2="547.3" stroke="#727272" stroke-width="0.8"/>
<line x1="88.3" y1="545.5" x2="88.3" y2="547.3" stroke="#727272" stroke-width="0.8"/>
<line x1="96.2" y1="545.5" x2="96.2" y2="547.3" stroke="#727272" stroke-width="0.8"/>
<line x1="104.1" y1="545.5" x2="104.1" y2="547.3" stroke="#727272" stroke-width="0.8"/>
<line x1="112.0" y1="545.5" x2="112.0" y2="547.3" stroke="#727272" stroke-width="0.8"/>
<line x1="119.9" y1="545.5" x2="119.9" y2="547.3" stroke="#727272" stroke-width="0.8"/>
<line x1="127.8" y1="545.5" x2="127.8" y2="547.3" stroke="#727272" stroke-width="0.8"/>
<line x1="135.7" y1="545.5" x2="135.7" y2="547.3" stroke="#727272" stroke-width="0.8"/>
<line x1="143.6" y1="545.5" x2="143.6" y2="547.3" stroke="#727272" stroke-width="0.8"/>
<line x1="151.5" y1="545.5" x2="151.5" y2="547.3" stroke="#727272" stroke-width="0.8"/>
<line x1="159.4" y1="545.5" x2="159.4" y2="547.3" stroke="#727272" stroke-width="0.8"/>
<line x1="167.3" y1="545.5" x2="167.3" y2="547.3" stroke="#727272" stroke-width="0.8"/>
<line x1="175.2" y1="545.5" x2="175.2" y2="547.3" stroke="#727272" stroke-width="0.8"/>
<line x1="183.1" y1="545.5" x2="183.1" y2="547.3" stroke="#727272" stroke-width="0.8"/>
<line x1="191.0" y1="545.5" x2="191.0" y2="547.3" stroke="#727272" stroke-width="0.8"/>
<line x1="198.9" y1="545.5" x2="198.9" y2="547.3" stroke="#727272" stroke-width="0.8"/>
<line x1="206.8" y1="545.5" x2="206.8" y2="547.3" stroke="#727272" stroke-width="0.8"/>
<line x1="214.7" y1="545.5" x2="214.7" y2="547.3" stroke="#727272" stroke-width="0.8"/>
<line x1="222.6" y1="545.5" x2="222.6" y2="547.3" stroke="#727272" stroke-width="0.8"/>
<line x1="230.5" y1="545.5" x2="230.5" y2="547.3" stroke="#727272" stroke-width="0.8"/>
<line x1="238.4" y1="545.5" x2="238.4" y2="547.3" stroke="#727272" stroke-width="0.8"/>
<line x1="246.3" y1="545.5" x2="246.3" y2="547.3" stroke="#727272" stroke-width="0.8"/>
<line x1="254.2" y1="545.5" x2="254.2" y2="547.3" stroke="#727272" stroke-width="0.8"/>
<line x1="262.1" y1="545.5" x2="262.1" y2="547.3" stroke="#727272" stroke-width="0.8"/>
<text x="36.6" y="554.4" class="tl" text-anchor="middle">0.0</text>
<text x="72.0" y="554.4" class="tl" text-anchor="middle">5.0</text>
<text x="111.8" y="554.4" class="tl" text-anchor="middle">10.0</text>
<text x="151.3" y="554.4" class="tl" text-anchor="middle">15.0</text>
<text x="190.9" y="554.4" class="tl" text-anchor="middle">20.0</text>
<text x="230.4" y="554.4" class="tl" text-anchor="middle">25.0</text>
<text x="124.3" y="560.4" class="rt" textLength="46.6" lengthAdjust="spacingAndGlyphs">Retention Time [min]</text>
<path d="M32.40 537.60 C33.60 536.40 34.80 535.05 36.00 534.00 C38.67 531.67 41.33 530.00 44.00 528.00 C46.67 526.00 49.33 524.00 52.00 522.00 C54.67 520.00 57.33 517.79 60.00 516.00 C63.33 513.77 66.67 511.82 70.00 510.00 C73.33 508.18 76.67 506.48 80.00 505.00 C83.33 503.52 86.67 502.24 90.00 501.00 C93.33 499.76 96.67 498.49 100.00 497.50 C101.90 496.94 103.80 496.68 105.70 496.00 C106.97 495.55 108.23 495.05 109.50 494.00 C110.77 492.95 112.03 489.97 113.30 486.60 C114.27 484.03 115.23 480.37 116.20 475.00 C116.80 471.67 117.40 466.20 118.00 460.00 C118.50 454.84 119.00 448.00 119.50 440.00 C120.00 432.00 120.50 416.31 121.00 410.00 C121.57 402.85 122.13 394.50 122.70 394.50 C123.13 394.50 123.57 401.74 124.00 405.00 C124.50 408.76 125.00 412.07 125.50 415.50 C126.40 421.68 127.30 431.37 128.20 433.60 C129.70 437.32 131.20 438.43 132.70 440.00 C134.53 441.92 136.37 443.10 138.20 444.50 C140.30 446.10 142.40 449.00 144.50 449.00 C146.00 449.00 147.50 447.55 149.00 446.40 C150.83 445.00 152.67 441.97 154.50 440.00 C156.33 438.03 158.17 435.71 160.00 434.50 C161.83 433.29 163.67 432.83 165.50 431.80 C167.33 430.77 169.17 429.66 171.00 428.20 C172.80 426.76 174.60 425.18 176.40 422.70 C177.60 421.04 178.80 419.21 180.00 415.50 C180.90 412.72 181.80 403.92 182.70 399.00 C183.30 395.72 183.90 391.93 184.50 390.00 C185.13 387.96 185.77 385.50 186.40 385.50 C187.27 385.50 188.13 387.93 189.00 390.00 C189.93 392.23 190.87 396.76 191.80 401.00 C192.70 405.09 193.60 410.75 194.50 415.50 C195.43 420.42 196.37 426.43 197.30 430.00 C198.20 433.44 199.10 437.40 200.00 438.20 C201.20 439.27 202.40 440.00 203.60 440.00 C205.40 440.00 207.20 439.06 209.00 438.20 C210.83 437.33 212.67 435.25 214.50 433.60 C215.13 433.03 215.77 431.80 216.40 431.80 C216.70 431.80 217.00 436.83 217.30 439.00 C217.87 443.10 218.43 447.50 219.00 450.00 C219.93 454.12 220.87 456.67 221.80 459.00 C223.03 462.07 224.27 464.27 225.50 466.40 C226.17 467.55 226.83 468.66 227.50 469.50 C229.73 472.32 231.97 475.40 234.20 476.20 C237.03 477.22 239.87 478.00 242.70 478.00 C245.87 478.00 249.03 476.70 252.20 476.70 C255.70 476.70 259.20 478.23 262.70 479.00" fill="none" stroke="#ff4358" stroke-width="1.25" stroke-linejoin="round"/>
<path d="M32.40 537.00 C34.93 536.53 37.47 535.60 40.00 535.60 C43.33 535.60 46.67 535.60 50.00 535.60 C53.33 535.60 56.67 535.85 60.00 536.00 C66.67 536.29 73.33 537.00 80.00 537.00 C86.67 537.00 93.33 537.00 100.00 537.00 C102.53 537.00 105.07 537.60 107.60 537.60 C108.87 537.60 110.13 535.28 111.40 532.00 C112.37 529.50 113.33 518.16 114.30 507.50 C114.93 500.52 115.57 485.54 116.20 479.00 C116.57 475.22 116.93 473.99 117.30 470.00 C117.87 463.83 118.43 449.96 119.00 440.00 C119.67 428.28 120.33 414.19 121.00 405.00 C121.57 397.19 122.13 385.50 122.70 385.50 C123.30 385.50 123.90 399.20 124.50 406.40 C125.13 414.00 125.77 424.61 126.40 430.00 C127.27 437.38 128.13 443.25 129.00 446.40 C130.23 450.88 131.47 453.21 132.70 455.50 C133.93 457.79 135.17 458.97 136.40 461.00 C137.60 462.97 138.80 466.00 140.00 467.60 C141.87 470.10 143.73 471.85 145.60 473.30 C148.13 475.27 150.67 476.56 153.20 478.00 C155.73 479.44 158.27 480.90 160.80 482.00 C162.40 482.69 164.00 483.80 165.60 483.80 C166.87 483.80 168.13 482.97 169.40 482.00 C170.67 481.03 171.93 477.38 173.20 474.30 C174.13 472.03 175.07 469.20 176.00 466.00 C176.67 463.71 177.33 461.16 178.00 458.00 C178.67 454.84 179.33 447.89 180.00 446.40 C181.20 443.72 182.40 442.46 183.60 441.80 C184.83 441.12 186.07 440.50 187.30 440.50 C188.20 440.50 189.10 441.05 190.00 441.80 C190.90 442.55 191.80 446.92 192.70 450.00 C193.63 453.19 194.57 457.35 195.50 461.00 C196.10 463.34 196.70 465.57 197.30 468.00 C197.87 470.30 198.43 473.36 199.00 475.20 C200.27 479.32 201.53 483.42 202.80 484.70 C203.77 485.68 204.73 486.60 205.70 486.60 C206.63 486.60 207.57 484.70 208.50 484.70 C209.13 484.70 209.77 486.53 210.40 488.50 C211.03 490.47 211.67 498.25 212.30 501.80 C213.27 507.21 214.23 511.89 215.20 515.00 C216.80 520.15 218.40 524.19 220.00 526.50 C221.87 529.19 223.73 531.25 225.60 532.20 C228.13 533.49 230.67 534.30 233.20 534.70 C237.63 535.40 242.07 535.66 246.50 536.00 C251.90 536.41 257.30 536.67 262.70 537.00" fill="none" stroke="#5550cc" stroke-width="1.25" stroke-linejoin="round"/>
<path d="M32.40 521.00 C32.93 520.00 33.47 519.22 34.00 518.00 C34.67 516.47 35.33 513.74 36.00 512.00 C37.33 508.52 38.67 505.62 40.00 503.00 C41.33 500.38 42.67 496.00 44.00 496.00 C44.67 496.00 45.33 497.09 46.00 498.00 C47.33 499.82 48.67 505.25 50.00 508.00 C51.33 510.75 52.67 513.30 54.00 515.00 C55.33 516.70 56.67 517.92 58.00 519.00 C60.00 520.62 62.00 522.03 64.00 523.00 C66.67 524.30 69.33 525.00 72.00 526.00 C74.67 527.00 77.33 528.40 80.00 529.00 C82.00 529.45 84.00 529.53 86.00 530.00 C88.00 530.47 90.00 531.57 92.00 532.40 C94.00 533.23 96.00 534.25 98.00 535.00 C100.00 535.75 102.00 536.60 104.00 537.00 C105.33 537.27 106.67 537.60 108.00 537.60 C108.67 537.60 109.33 536.09 110.00 535.00 C110.47 534.23 110.93 533.49 111.40 532.00 C112.37 528.91 113.33 518.16 114.30 507.50 C114.93 500.52 115.57 486.84 116.20 479.00 C116.80 471.58 117.40 463.57 118.00 460.00 C118.67 456.03 119.33 454.80 120.00 451.80 C120.90 447.75 121.80 438.20 122.70 438.20 C123.63 438.20 124.57 441.80 125.50 441.80 C126.10 441.80 126.70 440.50 127.30 439.00 C128.20 436.76 129.10 423.56 130.00 417.30 C131.20 408.96 132.40 398.88 133.60 395.50 C135.13 391.18 136.67 387.30 138.20 387.30 C140.63 387.30 143.07 388.20 145.50 388.20 C147.60 388.20 149.70 386.00 151.80 386.00 C153.03 386.00 154.27 387.98 155.50 390.00 C157.00 392.46 158.50 400.95 160.00 406.40 C161.50 411.85 163.00 418.35 164.50 422.70 C166.00 427.05 167.50 430.63 169.00 433.60 C170.83 437.23 172.67 439.62 174.50 442.70 C175.73 444.77 176.97 449.00 178.20 449.00 C179.13 449.00 180.07 443.08 181.00 439.00 C182.00 434.63 183.00 427.25 184.00 422.00 C185.23 415.53 186.47 409.22 187.70 404.00 C188.53 400.47 189.37 394.50 190.20 394.50 C190.73 394.50 191.27 398.70 191.80 401.00 C192.70 404.89 193.60 411.62 194.50 413.60 C195.43 415.65 196.37 417.60 197.30 417.60 C198.80 417.60 200.30 415.57 201.80 413.60 C203.63 411.20 205.47 404.30 207.30 399.00 C208.37 395.92 209.43 389.00 210.50 389.00 C210.93 389.00 211.37 393.49 211.80 397.30 C212.40 402.57 213.00 417.28 213.60 424.50 C214.53 435.74 215.47 441.56 216.40 451.80 C216.93 457.65 217.47 468.60 218.00 471.40 C219.27 478.05 220.53 479.16 221.80 482.80 C223.40 487.40 225.00 491.86 226.60 496.00 C228.17 500.06 229.73 504.04 231.30 507.50 C232.53 510.22 233.77 512.29 235.00 515.00 C236.33 517.93 237.67 522.69 239.00 524.60 C240.23 526.36 241.47 528.29 242.70 528.40 C244.13 528.53 245.57 528.60 247.00 528.60 C248.73 528.60 250.47 528.00 252.20 528.00 C254.13 528.00 256.07 531.30 258.00 531.30 C259.57 531.30 261.13 530.03 262.70 529.40" fill="none" stroke="#08c866" stroke-width="1.65" stroke-linejoin="round"/>
<line x1="286.0" y1="544.6" x2="532.6" y2="544.6" stroke="#727272" stroke-width="1.2"/>
<line x1="287.0" y1="544.6" x2="287.0" y2="546.4" stroke="#727272" stroke-width="0.8"/>
<line x1="295.4" y1="544.6" x2="295.4" y2="546.4" stroke="#727272" stroke-width="0.8"/>
<line x1="303.9" y1="544.6" x2="303.9" y2="546.4" stroke="#727272" stroke-width="0.8"/>
<line x1="312.3" y1="544.6" x2="312.3" y2="546.4" stroke="#727272" stroke-width="0.8"/>
<line x1="320.8" y1="544.6" x2="320.8" y2="546.4" stroke="#727272" stroke-width="0.8"/>
<line x1="329.2" y1="544.6" x2="329.2" y2="546.4" stroke="#727272" stroke-width="0.8"/>
<line x1="337.7" y1="544.6" x2="337.7" y2="546.4" stroke="#727272" stroke-width="0.8"/>
<line x1="346.1" y1="544.6" x2="346.1" y2="546.4" stroke="#727272" stroke-width="0.8"/>
<line x1="354.6" y1="544.6" x2="354.6" y2="546.4" stroke="#727272" stroke-width="0.8"/>
<line x1="363.0" y1="544.6" x2="363.0" y2="546.4" stroke="#727272" stroke-width="0.8"/>
<line x1="371.5" y1="544.6" x2="371.5" y2="546.4" stroke="#727272" stroke-width="0.8"/>
<line x1="379.9" y1="544.6" x2="379.9" y2="546.4" stroke="#727272" stroke-width="0.8"/>
<line x1="388.4" y1="544.6" x2="388.4" y2="546.4" stroke="#727272" stroke-width="0.8"/>
<line x1="396.8" y1="544.6" x2="396.8" y2="546.4" stroke="#727272" stroke-width="0.8"/>
<line x1="405.3" y1="544.6" x2="405.3" y2="546.4" stroke="#727272" stroke-width="0.8"/>
<line x1="413.7" y1="544.6" x2="413.7" y2="546.4" stroke="#727272" stroke-width="0.8"/>
<line x1="422.2" y1="544.6" x2="422.2" y2="546.4" stroke="#727272" stroke-width="0.8"/>
<line x1="430.6" y1="544.6" x2="430.6" y2="546.4" stroke="#727272" stroke-width="0.8"/>
<line x1="439.1" y1="544.6" x2="439.1" y2="546.4" stroke="#727272" stroke-width="0.8"/>
<line x1="447.5" y1="544.6" x2="447.5" y2="546.4" stroke="#727272" stroke-width="0.8"/>
<line x1="456.0" y1="544.6" x2="456.0" y2="546.4" stroke="#727272" stroke-width="0.8"/>
<line x1="464.4" y1="544.6" x2="464.4" y2="546.4" stroke="#727272" stroke-width="0.8"/>
<line x1="472.9" y1="544.6" x2="472.9" y2="546.4" stroke="#727272" stroke-width="0.8"/>
<line x1="481.3" y1="544.6" x2="481.3" y2="546.4" stroke="#727272" stroke-width="0.8"/>
<line x1="489.8" y1="544.6" x2="489.8" y2="546.4" stroke="#727272" stroke-width="0.8"/>
<line x1="498.2" y1="544.6" x2="498.2" y2="546.4" stroke="#727272" stroke-width="0.8"/>
<line x1="506.7" y1="544.6" x2="506.7" y2="546.4" stroke="#727272" stroke-width="0.8"/>
<line x1="515.1" y1="544.6" x2="515.1" y2="546.4" stroke="#727272" stroke-width="0.8"/>
<line x1="523.6" y1="544.6" x2="523.6" y2="546.4" stroke="#727272" stroke-width="0.8"/>
<line x1="532.0" y1="544.6" x2="532.0" y2="546.4" stroke="#727272" stroke-width="0.8"/>
<text x="289.8" y="553.6" class="tl" text-anchor="middle">0.0</text>
<text x="327.9" y="553.6" class="tl" text-anchor="middle">5.0</text>
<text x="370.3" y="553.6" class="tl" text-anchor="middle">10.0</text>
<text x="413.2" y="553.6" class="tl" text-anchor="middle">15.0</text>
<text x="456.0" y="553.6" class="tl" text-anchor="middle">20.0</text>
<text x="498.0" y="553.6" class="tl" text-anchor="middle">25.0</text>
<text x="383.9" y="560.4" class="rt" textLength="50.3" lengthAdjust="spacingAndGlyphs">Retention Time [min]</text>
<path d="M286.40 528.40 C287.03 527.93 287.67 527.00 288.30 527.00 C290.20 527.00 292.10 527.50 294.00 527.50 C300.33 527.50 306.67 527.25 313.00 527.00 C319.33 526.75 325.67 525.60 332.00 525.60 C338.33 525.60 344.67 526.20 351.00 526.20 C355.47 526.20 359.93 526.02 364.40 525.60 C365.10 525.53 365.80 525.31 366.50 525.00 C367.40 524.60 368.30 523.58 369.20 521.90 C369.57 521.21 369.93 519.58 370.30 518.00 C370.57 516.85 370.83 515.80 371.10 513.70 C371.30 512.12 371.50 507.91 371.70 505.50 C371.97 502.29 372.23 500.43 372.50 497.00 C372.77 493.57 373.03 488.66 373.30 484.00 C373.63 478.18 373.97 472.90 374.30 465.00 C374.80 453.15 375.30 425.74 375.80 415.50 C376.70 397.07 377.60 377.60 378.50 377.60 C379.73 377.60 380.97 396.74 382.20 415.50 C382.80 424.63 383.40 449.60 384.00 460.00 C384.57 469.83 385.13 477.88 385.70 482.80 C386.63 490.91 387.57 496.64 388.50 500.00 C389.77 504.57 391.03 507.83 392.30 509.40 C393.87 511.34 395.43 513.20 397.00 513.20 C398.60 513.20 400.20 511.74 401.80 510.40 C403.70 508.81 405.60 503.71 407.50 501.50 C409.10 499.64 410.70 497.37 412.30 497.00 C413.53 496.72 414.77 496.50 416.00 496.50 C417.60 496.50 419.20 497.82 420.80 499.00 C422.70 500.40 424.60 504.18 426.50 506.50 C428.40 508.82 430.30 511.50 432.20 513.00 C434.13 514.53 436.07 515.83 438.00 516.50 C440.67 517.43 443.33 518.40 446.00 518.40 C448.00 518.40 450.00 518.27 452.00 518.00 C453.33 517.82 454.67 515.70 456.00 513.00 C456.67 511.65 457.33 508.48 458.00 505.00 C458.67 501.52 459.33 495.71 460.00 490.00 C460.67 484.29 461.33 477.57 462.00 470.00 C463.87 448.82 465.73 392.00 467.60 392.00 C469.07 392.00 470.53 418.24 472.00 430.00 C473.33 440.69 474.67 449.64 476.00 460.00 C476.67 465.18 477.33 471.43 478.00 476.00 C478.67 480.57 479.33 485.05 480.00 488.00 C480.67 490.95 481.33 494.11 482.00 495.00 C483.33 496.77 484.67 496.84 486.00 498.00 C488.00 499.74 490.00 504.40 492.00 504.40 C493.00 504.40 494.00 499.54 495.00 498.00 C496.00 496.46 497.00 494.40 498.00 494.40 C499.00 494.40 500.00 497.26 501.00 499.00 C502.00 500.74 503.00 503.65 504.00 505.00 C505.33 506.81 506.67 507.10 508.00 509.00 C509.00 510.43 510.00 513.05 511.00 516.00 C512.00 518.95 513.00 525.05 514.00 528.00 C515.00 530.95 516.00 534.21 517.00 535.00 C517.67 535.53 518.33 536.00 519.00 536.00 C520.67 536.00 522.33 532.90 524.00 531.00 C526.00 528.72 528.00 525.88 530.00 523.00 C530.87 521.75 531.73 520.33 532.60 519.00" fill="none" stroke="#ff4358" stroke-width="1.25" stroke-linejoin="round"/>
<path d="M286.40 520.80 C286.73 519.87 287.07 518.00 287.40 518.00 C288.33 518.00 289.27 519.73 290.20 520.00 C292.73 520.73 295.27 521.03 297.80 521.20 C302.87 521.54 307.93 521.80 313.00 521.80 C319.33 521.80 325.67 521.80 332.00 521.80 C338.33 521.80 344.67 523.70 351.00 523.70 C354.00 523.70 357.00 523.70 360.00 523.70 C360.83 523.70 361.67 523.39 362.50 523.00 C363.43 522.57 364.37 521.29 365.30 519.00 C366.07 517.12 366.83 506.20 367.60 501.80 C368.57 496.25 369.53 493.94 370.50 488.50 C371.13 484.94 371.77 479.45 372.40 475.20 C372.67 473.41 372.93 472.49 373.20 470.00 C373.97 462.84 374.73 428.31 375.50 415.50 C376.50 398.80 377.50 377.60 378.50 377.60 C379.73 377.60 380.97 395.84 382.20 415.50 C382.73 424.00 383.27 450.96 383.80 460.00 C384.43 470.74 385.07 477.55 385.70 482.80 C386.63 490.54 387.57 496.64 388.50 500.00 C389.77 504.57 391.03 507.83 392.30 509.40 C393.87 511.34 395.43 513.20 397.00 513.20 C398.60 513.20 400.20 511.76 401.80 510.40 C403.70 508.78 405.60 503.29 407.50 500.90 C409.10 498.89 410.70 496.56 412.30 496.00 C413.53 495.57 414.77 495.20 416.00 495.20 C417.60 495.20 419.20 496.72 420.80 498.00 C422.70 499.52 424.60 503.23 426.50 505.60 C428.40 507.97 430.30 510.73 432.20 512.30 C434.13 513.90 436.07 515.29 438.00 516.00 C440.67 516.98 443.33 518.00 446.00 518.00 C448.00 518.00 450.00 518.00 452.00 518.00 C453.33 518.00 454.67 516.27 456.00 514.00 C457.00 512.30 458.00 506.52 459.00 500.00 C459.67 495.65 460.33 486.67 461.00 480.00 C461.33 476.67 461.67 473.47 462.00 470.00 C463.47 454.72 464.93 421.00 466.40 421.00 C467.60 421.00 468.80 434.25 470.00 445.00 C470.67 450.97 471.33 462.68 472.00 470.00 C472.33 473.66 472.67 477.56 473.00 480.00 C474.00 487.33 475.00 492.77 476.00 496.00 C477.33 500.30 478.67 503.58 480.00 505.00 C482.00 507.13 484.00 507.52 486.00 509.00 C488.00 510.48 490.00 514.00 492.00 514.00 C493.67 514.00 495.33 512.40 497.00 512.40 C498.00 512.40 499.00 513.10 500.00 513.60 C502.00 514.60 504.00 516.83 506.00 518.00 C507.33 518.78 508.67 518.90 510.00 520.00 C511.00 520.82 512.00 523.71 513.00 526.00 C514.00 528.29 515.00 532.75 516.00 534.00 C516.80 535.00 517.60 536.00 518.40 536.00 C519.60 536.00 520.80 533.90 522.00 533.00 C524.00 531.50 526.00 530.41 528.00 529.00 C529.53 527.92 531.07 526.73 532.60 525.60" fill="none" stroke="#08c866" stroke-width="1.65" stroke-linejoin="round"/>
<line x1="507" y1="369.6" x2="532" y2="369.6" stroke="#9a9a9a" stroke-width="1"/>
<line x1="250" y1="47.6" x2="262.7" y2="47.6" stroke="#e8000e" stroke-width="2"/>
<line x1="250" y1="58.8" x2="262.7" y2="58.8" stroke="#2a2ab8" stroke-width="2"/>
<line x1="250.6" y1="69.3" x2="262" y2="69.3" stroke="#24a830" stroke-width="2"/>
<text x="270.8" y="49.6" class="lg" textLength="10.6" lengthAdjust="spacingAndGlyphs">CA</text>
<text x="268.2" y="61.0" class="lg" textLength="25" lengthAdjust="spacingAndGlyphs">AOOA</text>
<text x="267.3" y="72.7" class="lg" textLength="17.4" lengthAdjust="spacingAndGlyphs">ChCl</text>
<line x1="247.3" y1="47.6" x2="162.1" y2="85.9" stroke="#ff6a6a" stroke-width="0.9"/>
<polygon points="157.9,87.8 161.3,84.1 162.9,87.7" fill="#e60000"/>
<line x1="282.7" y1="46.4" x2="456.6" y2="60.1" stroke="#ff6a6a" stroke-width="0.9"/>
<polygon points="461.2,60.5 456.5,62.1 456.8,58.1" fill="#e60000"/>
<line x1="247.3" y1="59.2" x2="173.2" y2="101.7" stroke="#7676e4" stroke-width="0.9"/>
<polygon points="169.2,104.0 172.2,100.0 174.2,103.4" fill="#2020b0"/>
<line x1="285.5" y1="61.8" x2="379.4" y2="128.5" stroke="#7676e4" stroke-width="0.9"/>
<polygon points="383.1,131.2 378.2,130.2 380.5,126.9" fill="#2020b0"/>
<line x1="247.3" y1="72.7" x2="221.2" y2="131.1" stroke="#94d294" stroke-width="0.9"/>
<polygon points="219.3,135.3 219.4,130.3 223.0,131.9" fill="#3aa83a"/>
<line x1="284.5" y1="72.7" x2="331.0" y2="154.4" stroke="#94d294" stroke-width="0.9"/>
<polygon points="333.3,158.4 329.3,155.4 332.8,153.4" fill="#3aa83a"/>
<line x1="250" y1="231.0" x2="262.7" y2="231.0" stroke="#e8000e" stroke-width="2"/>
<line x1="250" y1="242.8" x2="262.7" y2="242.8" stroke="#2a2ab8" stroke-width="2"/>
<line x1="250.6" y1="253.2" x2="262" y2="253.2" stroke="#24a830" stroke-width="2"/>
<text x="270.8" y="232.8" class="lg" textLength="10.6" lengthAdjust="spacingAndGlyphs">CA</text>
<text x="268.2" y="245.0" class="lg" textLength="25" lengthAdjust="spacingAndGlyphs">AOOA</text>
<text x="267.3" y="256.7" class="lg" textLength="17.4" lengthAdjust="spacingAndGlyphs">ChCl</text>
<line x1="249.0" y1="232.0" x2="172.8" y2="267.7" stroke="#ff6a6a" stroke-width="0.9"/>
<polygon points="168.6,269.6 171.9,265.8 173.6,269.5" fill="#e60000"/>
<line x1="282.7" y1="232.7" x2="388.3" y2="308.0" stroke="#ff6a6a" stroke-width="0.9"/>
<polygon points="392.0,310.7 387.1,309.7 389.4,306.4" fill="#e60000"/>
<line x1="247.3" y1="245.0" x2="199.5" y2="271.1" stroke="#7676e4" stroke-width="0.9"/>
<polygon points="195.5,273.3 198.6,269.3 200.5,272.8" fill="#2020b0"/>
<line x1="285.5" y1="244.5" x2="367.4" y2="311.6" stroke="#7676e4" stroke-width="0.9"/>
<polygon points="371.0,314.5 366.2,313.1 368.7,310.0" fill="#2020b0"/>
<line x1="250.0" y1="256.8" x2="221.3" y2="329.3" stroke="#94d294" stroke-width="0.9"/>
<polygon points="219.6,333.6 219.4,328.6 223.2,330.1" fill="#3aa83a"/>
<line x1="287.3" y1="256.4" x2="362.9" y2="316.1" stroke="#94d294" stroke-width="0.9"/>
<polygon points="366.5,319.0 361.7,317.7 364.1,314.6" fill="#3aa83a"/>
<line x1="250" y1="406.0" x2="262.7" y2="406.0" stroke="#e8000e" stroke-width="2"/>
<line x1="250" y1="417.6" x2="262.7" y2="417.6" stroke="#2a2ab8" stroke-width="2"/>
<line x1="250.6" y1="428.2" x2="262" y2="428.2" stroke="#24a830" stroke-width="2"/>
<text x="270.8" y="407.8" class="lg" textLength="10.6" lengthAdjust="spacingAndGlyphs">CA</text>
<text x="268.2" y="420.0" class="lg" textLength="25" lengthAdjust="spacingAndGlyphs">AOOA</text>
<text x="267.3" y="431.8" class="lg" textLength="17.4" lengthAdjust="spacingAndGlyphs">ChCl</text>
<line x1="246.4" y1="408.5" x2="202.4" y2="427.8" stroke="#ff6a6a" stroke-width="0.9"/>
<polygon points="198.2,429.6 201.6,425.9 203.2,429.6" fill="#e60000"/>
<line x1="283.6" y1="402.7" x2="368.6" y2="513.9" stroke="#ff6a6a" stroke-width="0.9"/>
<polygon points="371.4,517.6 367.0,515.2 370.2,512.7" fill="#e60000"/>
<line x1="246.4" y1="420.0" x2="198.2" y2="454.3" stroke="#7676e4" stroke-width="0.9"/>
<polygon points="194.5,457.0 197.1,452.7 199.4,456.0" fill="#2020b0"/>
<line x1="248.2" y1="431.8" x2="230.2" y2="493.8" stroke="#94d294" stroke-width="0.9"/>
<polygon points="228.9,498.2 228.3,493.2 232.1,494.3" fill="#3aa83a"/>
<line x1="281.8" y1="434.5" x2="317.6" y2="515.3" stroke="#94d294" stroke-width="0.9"/>
<polygon points="319.5,519.5 315.8,516.1 319.5,514.5" fill="#3aa83a"/>
<text x="234.4" y="17.8" class="ti" textLength="29.4" lengthAdjust="spacingAndGlyphs">ALP-1</text>
<text x="484.4" y="16" class="ti">Apple</text>
<text x="234.4" y="204" class="ti" textLength="29.4" lengthAdjust="spacingAndGlyphs">ALP-2</text>
<text x="494.4" y="193.6" class="ti">Orange</text>
<text x="234.4" y="391.4" class="ti" textLength="29.4" lengthAdjust="spacingAndGlyphs">ALP-3</text>
<text x="485.6" y="384.4" class="ti" letter-spacing="0.25">Strawberry</text>
</svg>
</body></html>
